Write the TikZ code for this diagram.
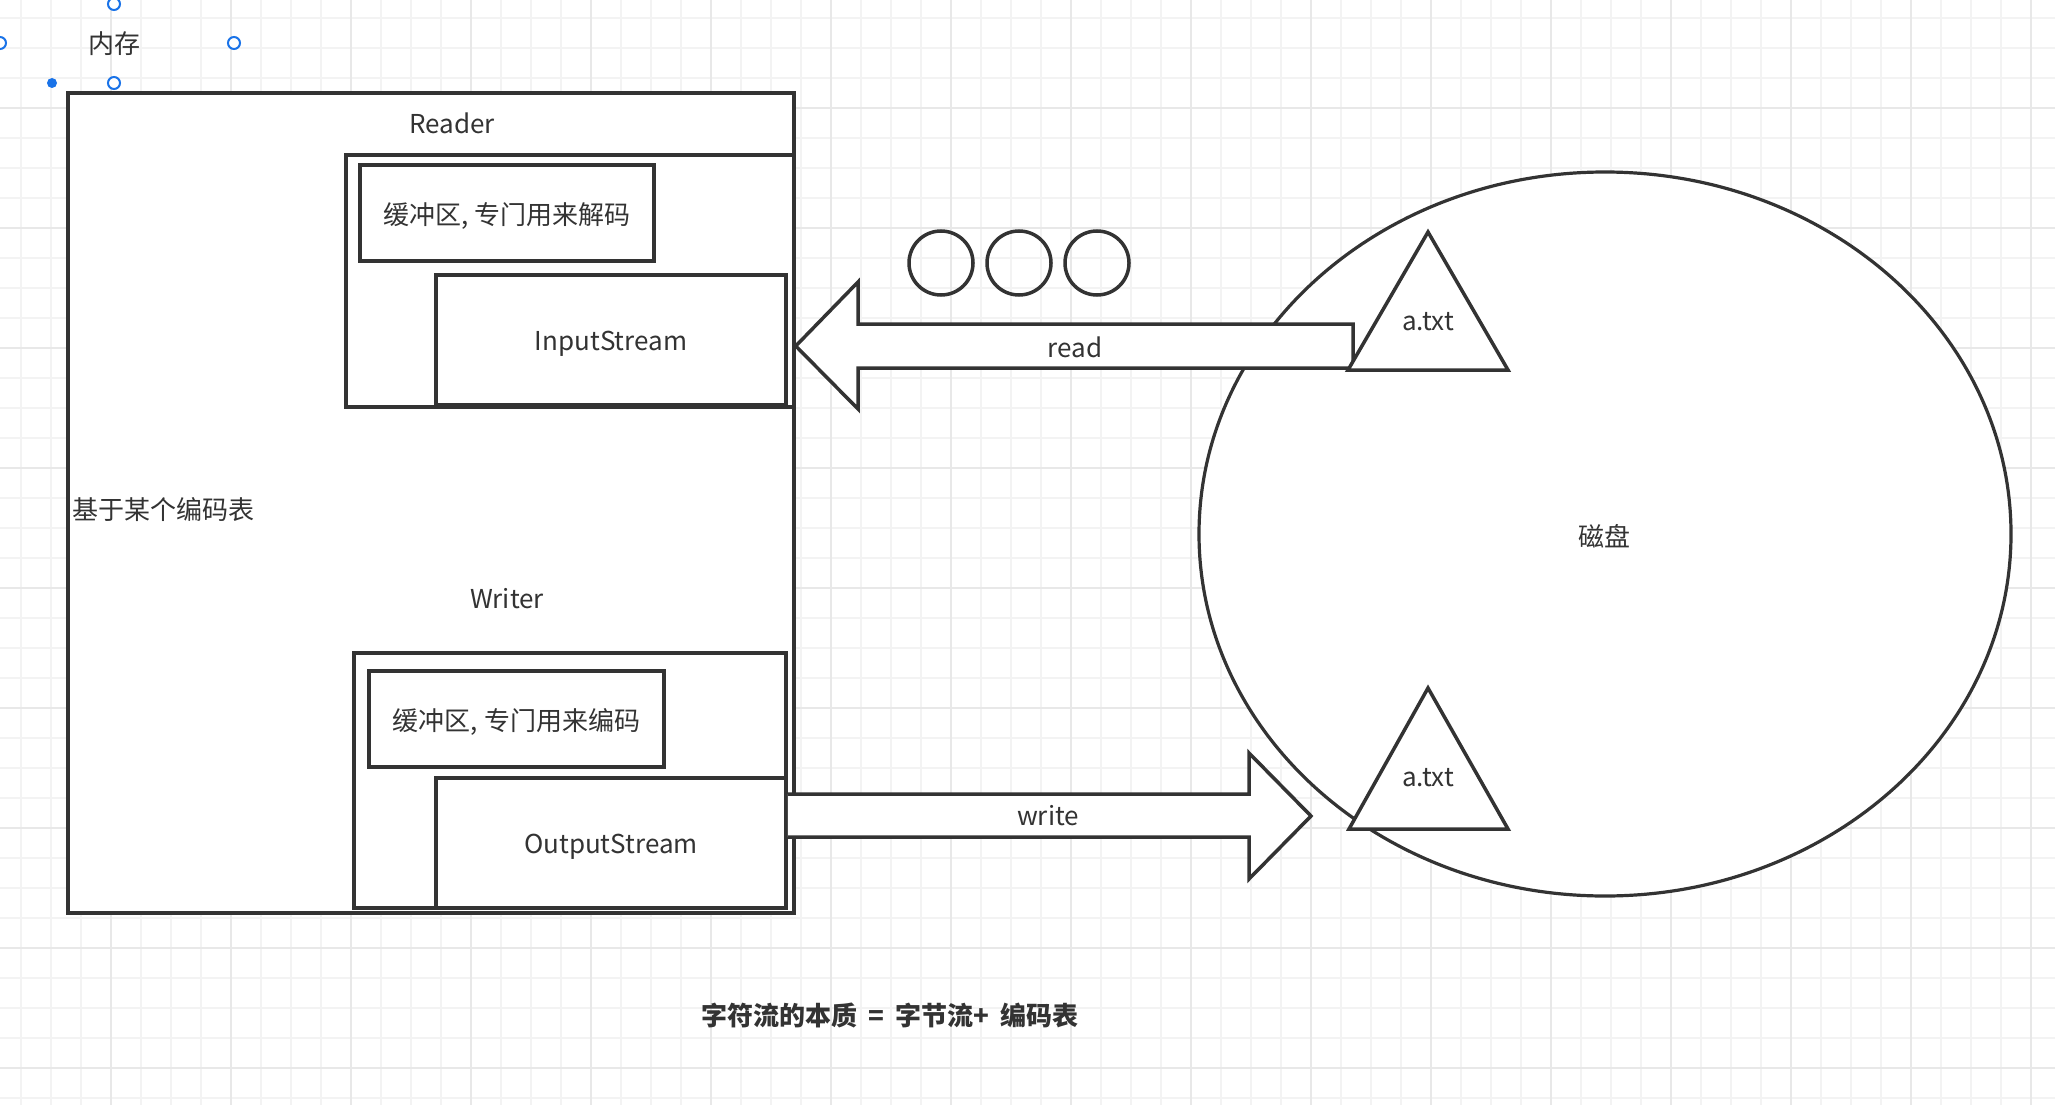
\documentclass[tikz,border=0pt]{standalone}
\usepackage{fontspec}
\setmainfont{Noto Sans CJK SC}
\usepackage{tikz}
\usetikzlibrary{
  positioning
}
\definecolor{ink}{HTML}{333333}
\definecolor{gridminor}{HTML}{F3F3F3}
\definecolor{gridmajor}{HTML}{E8E8E8}
\definecolor{handleblue}{HTML}{1A73E8}

\begin{document}
\begin{tikzpicture}[x=1pt,y=-1pt,
    box/.style={draw=ink,line width=3.5pt,fill=white,inner sep=0pt},
    txt/.style={text=ink,inner sep=0pt,font=\fontsize{26}{30}\selectfont},
    handle/.style={circle,draw=handleblue,line width=2pt,fill=white,minimum size=12pt,inner sep=0pt}]
		\useasboundingbox (0,0) rectangle (2055,1105);
		\fill [white] (0,0) rectangle (2055,1105);
		% grid
		\foreach \gx in {21,51,...,2055}{\draw [gridminor,line width=2pt] (\gx,0) -- (\gx,1105);}
		\foreach \gy in {18,48,...,1105}{\draw [gridminor,line width=2pt] (0,\gy) -- (2055,\gy);}
		\foreach \gx in {111,231,...,2055}{\draw [gridmajor,line width=2pt] (\gx,0) -- (\gx,1105);}
		\foreach \gy in {108,228,...,1105}{\draw [gridmajor,line width=2pt] (0,\gy) -- (2055,\gy);}
		% memory
		\node [txt] (memlbl) at (114.5,44) {内存};
		\foreach \hx/\hy in {114/4,234/43,114/83,0/43}{
		    \node [handle] at (\hx,\hy) {};
		}
		\node [circle,fill=handleblue,minimum size=10pt,inner sep=0pt] (handledot) at (52,83) {};
		\node [box,minimum width=726,minimum height=820] (mem) at (431,503) {};
		\node [txt] (readerlbl) at (452,123) {Reader};
		\node [box,minimum width=448,minimum height=252] (reader) at (570,281) {};
		\node [box,minimum width=294,minimum height=96] (decbuf) at (507,213) {};
		\node [txt] at ([yshift=-3pt]decbuf.center) {缓冲区, 专门用来解码};
		\node [box,minimum width=350,minimum height=130] (instream) at (611,340) {};
		\node [txt] at ([yshift=-4pt]instream.center) {InputStream};
		\node [txt,anchor=west] (codetbl) at (72,510) {基于某个编码表};
		\node [txt] (writerlbl) at (507,599) {Writer};
		\node [box,minimum width=432,minimum height=255] (writer) at (570,780.5) {};
		\node [box,minimum width=295,minimum height=96] (encbuf) at (516.5,719) {};
		\node [txt] at ([yshift=-3pt]encbuf.center) {缓冲区, 专门用来编码};
		\node [box,minimum width=350,minimum height=130] (outstream) at (611,843) {};
		\node [txt] at ([yshift=-4pt]outstream.center) {OutputStream};
		% disk
		\draw [ink,line width=3.2pt,fill=white] (1605,534) ellipse [x radius=406pt,y radius=362pt];
		\node [txt] (disk) at (1604,536) {磁盘};
		% read / write
		\draw [ink,line width=3.5pt,fill=white] (mem.east |- 0,346) -- (858,282) -- (858,324) -- (1353,324) -- (1353,368) -- (858,368) -- (858,409) -- cycle;
		\node [txt] (readlbl) at (1075,347) {read};
		\draw [ink,line width=3.5pt,fill=white] (outstream.east |- 0,794) -- (1249,794) -- (1249,753) -- (1311,816) -- (1249,879) -- (1249,837) -- (outstream.east |- 0,837);
		\node [txt] (writelbl) at (1048,816) {write};
		\foreach \cx [count=\i] in {941,1019,1097}{
		    \node [circle,draw=ink,line width=3.5pt,minimum size=64pt,inner sep=0pt] (bead\i) at (\cx,263) {};
		}
		% files
		\draw [ink,line width=3.5pt,fill=white] (1428,232) -- (1508,370) -- (1348,370) -- cycle;
		\node [txt] (filein) at (1428,322) {a.txt};
		\draw [ink,line width=3.5pt,fill=white] (1428,688) -- (1508,829) -- (1349,829) -- cycle;
		\node [txt] (fileout) at (1428,778) {a.txt};
		\node [txt,font=\bfseries\fontsize{26}{30}\selectfont] (summary) at (890,1015) {字符流的本质\hspace{0.42em}=\hspace{0.42em}字节流+\hspace{0.42em}编码表};
	\end{tikzpicture}
\end{document}
